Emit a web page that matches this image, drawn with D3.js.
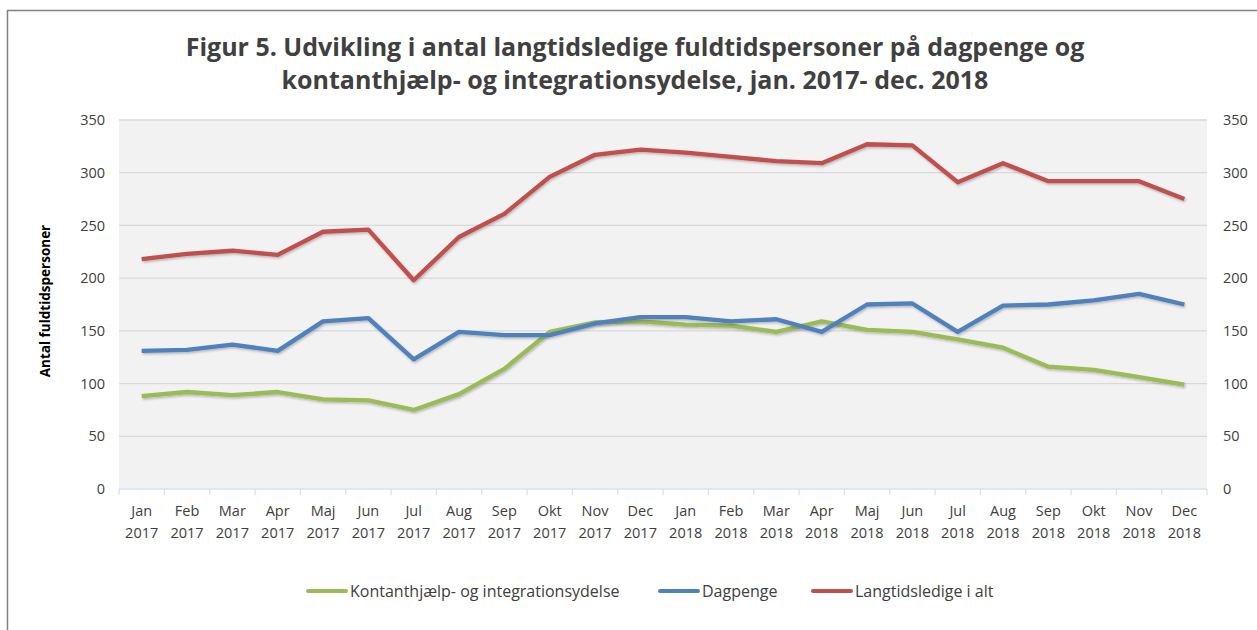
<!DOCTYPE html>
<head>
  <meta charset="utf-8">
  <title>Figur 5</title>
  <script src="https://d3js.org/d3.v7.min.js"></script>
<style>
body, html {
    margin: 0;
    padding: 0;
    background: #fff;
}
#chart text {
    font-family: "Open Sans", sans-serif;
    fill: #404040;
}
.grid line {
  stroke: #d9d9d9;
  stroke-width: 1.3px;
}
.line {
  fill: none;
  stroke-width: 4.3px;
  stroke-linejoin: round;
}
</style>
</head>
<body>
<div id="chart"></div>
<script>

var months = ["Jan","Feb","Mar","Apr","Maj","Jun","Jul","Aug","Sep","Okt","Nov","Dec"];
var years = ["2017","2018"];
var yTicks = [0, 50, 100, 150, 200, 250, 300, 350];

// values
var kontant = [88, 92, 89, 92, 85, 84, 75, 90, 114, 149, 158, 159,
               156, 155, 149, 159, 151, 149, 142, 134, 116, 113, 106, 99];
var dagpenge = [131, 132, 137, 131, 159, 162, 123, 149, 146, 146, 157, 163,
                163, 159, 161, 149, 175, 176, 149, 174, 175, 179, 185, 175];
var ialt = [218, 223, 226, 222, 244, 246, 198, 239, 261, 296, 317, 322,
            319, 315, 311, 309, 327, 326, 291, 309, 292, 292, 292, 275];

var seriesNames = ["Kontanthjælp- og integrationsydelse", "Dagpenge", "Langtidsledige i alt"];
var seriesColors = ["#9bbb59", "#4f81bd", "#c0504d"];

var categories = [];
years.forEach(function(yr) {
  months.forEach(function(m) { categories.push(m + " " + yr); });
});

var W = 1257, H = 630;
var margin = {top: 120, left: 119, right: 50, bottom: 141};
var width = W - margin.left - margin.right,
    height = H - margin.top - margin.bottom;

var svg = d3.select("#chart").append("svg")
    .attr("width", W)
    .attr("height", H);

// frame (only top + left edges show)
svg.append("line").attr("x1", 7).attr("x2", W).attr("y1", 10.5).attr("y2", 10.5)
    .style("stroke", "#7f7f7f").style("stroke-width", 1.5);
svg.append("line").attr("x1", 7.5).attr("x2", 7.5).attr("y1", 10).attr("y2", H)
    .style("stroke", "#7f7f7f").style("stroke-width", 1.5);

// title
var title = svg.append("text")
    .attr("text-anchor", "middle")
    .style("font-size", "25px")
    .style("font-weight", "bold");
title.append("tspan").attr("x", 635).attr("y", 56)
    .text("Figur 5. Udvikling i antal langtidsledige fuldtidspersoner på dagpenge og");
title.append("tspan").attr("x", 635).attr("y", 89)
    .text("kontanthjælp- og integrationsydelse, jan. 2017- dec. 2018");

var defs = svg.append("defs");
var f = defs.append("filter").attr("id", "shadow")
    .attr("x", "-5%").attr("y", "-20%").attr("width", "110%").attr("height", "140%");
f.append("feDropShadow").attr("dx", 1).attr("dy", 1.5).attr("stdDeviation", 1)
    .attr("flood-color", "#000").attr("flood-opacity", 0.25);

var g = svg.append("g")
    .attr("transform", "translate(" + margin.left + "," + margin.top + ")");

var x = d3.scaleBand().domain(categories).range([0, width]);
var y = d3.scaleLinear().domain([0, 350]).range([height, 0]);

g.append("rect")
    .attr("width", width)
    .attr("height", height)
    .style("fill", "#f2f2f2");

// gridlines
g.append("g").attr("class", "grid")
  .selectAll("line")
  .data(yTicks.filter(function(d) { return d > 0; }))
  .enter().append("line")
    .attr("x1", 0).attr("x2", width)
    .attr("y1", function(d) { return y(d); })
    .attr("y2", function(d) { return y(d); });

// left axis
var yl = g.append("g")
    .call(d3.axisLeft(y).tickValues(yTicks).tickSize(0).tickPadding(14));
yl.select(".domain").remove();
yl.selectAll("text").style("font-size", "14.5px");

// right axis
var yr = g.append("g")
    .attr("transform", "translate(" + width + ",0)")
    .call(d3.axisRight(y).tickValues(yTicks).tickSize(0).tickPadding(16));
yr.select(".domain").remove();
yr.selectAll("text").style("font-size", "14.5px");

// x axis
var xa = g.append("g")
    .attr("transform", "translate(0," + height + ")");
xa.append("line").attr("x1", 0).attr("x2", width)
    .style("stroke", "#d5e2f2").style("stroke-width", 1.3);
xa.selectAll(".tk")
  .data(d3.range(categories.length + 1))
  .enter().append("line")
    .attr("class", "tk")
    .attr("x1", function(i) { return i * x.step(); })
    .attr("x2", function(i) { return i * x.step(); })
    .attr("y1", 0).attr("y2", 6)
    .style("stroke", "#d5e2f2").style("stroke-width", 1.3);
var lab = xa.selectAll(".lab")
  .data(categories)
  .enter().append("text")
    .attr("class", "lab")
    .attr("text-anchor", "middle")
    .style("font-size", "14.5px")
    .attr("transform", function(d) { return "translate(" + (x(d) + x.bandwidth() / 2) + ",0)"; });
lab.append("tspan").attr("x", 0).attr("y", 27).text(function(d) { return d.split(" ")[0]; });
lab.append("tspan").attr("x", 0).attr("y", 49).text(function(d) { return d.split(" ")[1]; });

// y axis title
svg.append("text")
    .attr("transform", "translate(50,301) rotate(-90)")
    .attr("text-anchor", "middle")
    .style("font-size", "13.5px")
    .style("font-weight", "bold")
    .style("fill", "#000")
    .text("Antal fuldtidspersoner");

// lines
var line = d3.line()
    .x(function(d, i) { return x(categories[i]) + x.bandwidth() / 2; })
    .y(function(d) { return y(d); });

[kontant, dagpenge, ialt].forEach(function(s, k) {
  g.append("path")
    .datum(s)
    .attr("class", "line")
    .attr("filter", "url(#shadow)")
    .style("stroke", seriesColors[k])
    .attr("d", line);
});

// legend
var legX = [308, 660, 813];
var leg = svg.append("g");
seriesNames.forEach(function(n, k) {
  leg.append("line")
    .attr("x1", legX[k]).attr("x2", legX[k] + 38)
    .attr("y1", 591).attr("y2", 591)
    .style("stroke", seriesColors[k]).style("stroke-width", 4)
    .style("stroke-linecap", "round");
  leg.append("text")
    .attr("x", legX[k] + 42).attr("y", 597)
    .style("font-size", "16px")
    .text(n);
});

</script>
</body>
